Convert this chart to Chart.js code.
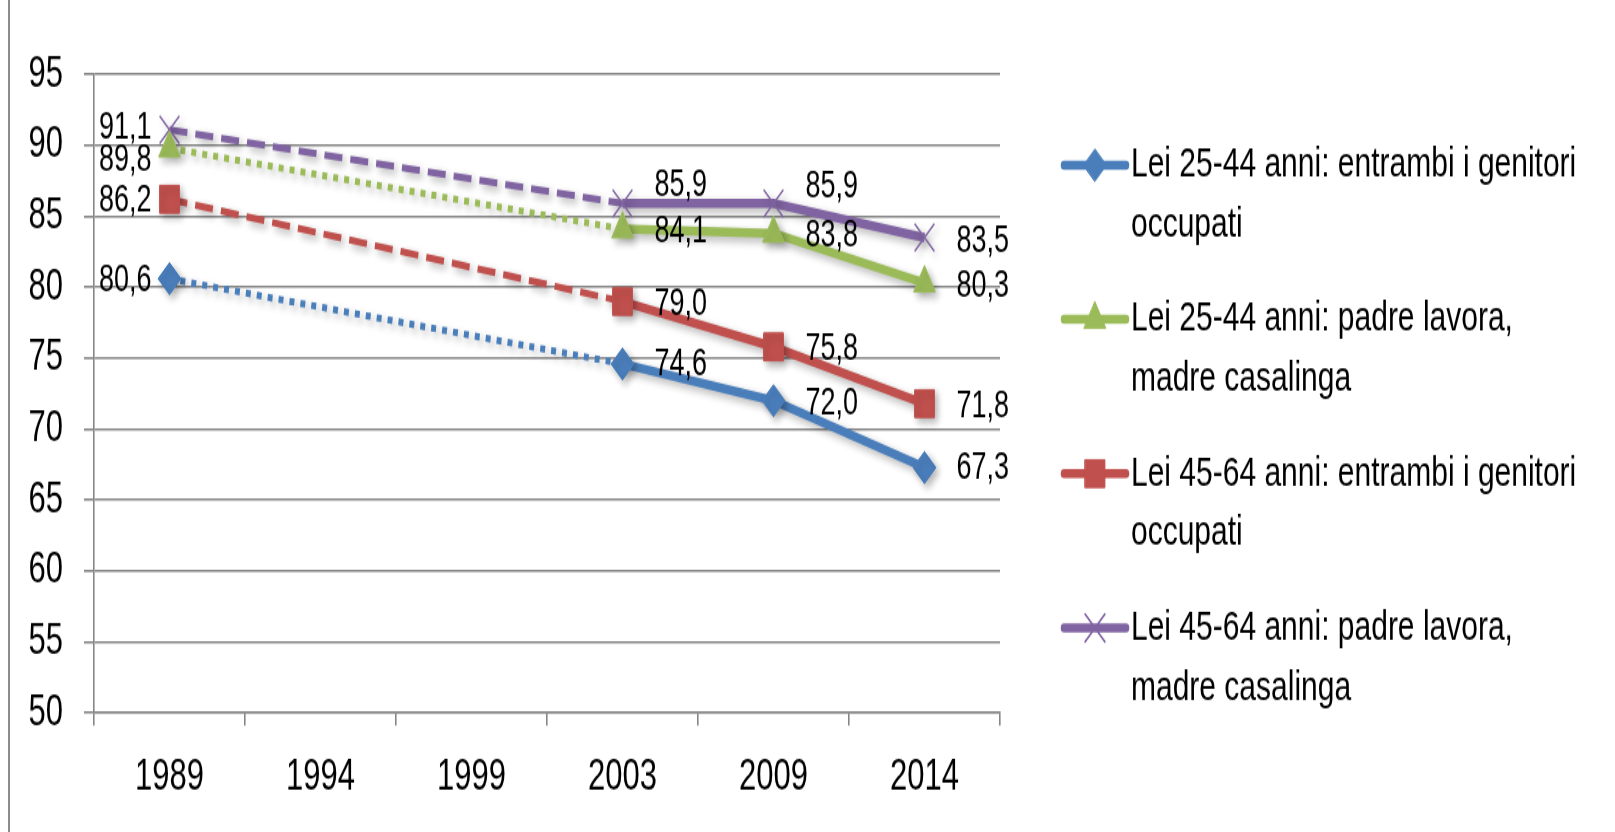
<!DOCTYPE html>
<html>
    <head>
        <meta charset="UTF-8" />
        <title>Lei 25-64 anni</title>
        <script src="https://cdn.jsdelivr.net/npm/chart.js@4.4.0/dist/chart.umd.min.js"></script>
        <style>
            body { margin: 0; background: #fff; }
            #frame { position: absolute; left: 8px; top: 0; height: 832px; border-left: 2px solid #8c8c8c; }
            /* the source picture is stretched vertically, so the canvas is too */
            #wrap { position: absolute; left: 0; top: 0; width: 1615px; height: 594.3px;
                    transform: scaleY(1.4); transform-origin: 0 0; }
        </style>
    </head>
    <body>
        <div id="frame"></div>
        <div id="wrap"><canvas id="lineChart"></canvas></div>
        <script>
            var years = ['1989', '1994', '1999', '2003', '2009', '2014'];

            var lei2544Entrambi = [80.6, null, null, 74.6, 72.0, 67.3];
            var lei2544Casalinga = [89.8, null, null, 84.1, 83.8, 80.3];
            var lei4564Entrambi = [86.2, null, null, 79.0, 75.8, 71.8];
            var lei4564Casalinga = [91.1, null, null, 85.9, 85.9, 83.5];

            var seriesNames = [
                'Lei 25-44 anni: entrambi i genitori\noccupati',
                'Lei 25-44 anni: padre lavora,\nmadre casalinga',
                'Lei 45-64 anni: entrambi i genitori\noccupati',
                'Lei 45-64 anni: padre lavora,\nmadre casalinga'
            ];

            var yMin = 50, yMax = 95, yStep = 5;

            var FONT = '"Liberation Sans", Arial, sans-serif';
            var GRID = '#868686';

            // dashed/dotted stretch over the missing years
            function gapped(ctx) { return ctx.p0.skip || ctx.p1.skip; }
            function gapDash(dash) {
                return function (ctx) { return gapped(ctx) ? dash : undefined; };
            }
            function gapWidth(ctx) { return gapped(ctx) ? 5 : undefined; }

            function series(label, data, color, style, radius, dash, labelDy) {
                return {
                    label: label,
                    data: data,
                    borderColor: color,
                    backgroundColor: color,
                    borderWidth: 6.5,
                    pointStyle: style,
                    pointRadius: radius,
                    pointBackgroundColor: style === 'crossRot' ? 'rgba(0,0,0,0)' : color,
                    pointBorderColor: color,
                    pointBorderWidth: style === 'crossRot' ? 1.5 : 1,
                    spanGaps: true,
                    tension: 0,
                    labelDy: labelDy,
                    segment: { borderDash: gapDash(dash), borderWidth: gapWidth }
                };
            }

            var shadowPlugin = {
                id: 'shadow',
                beforeDatasetsDraw: function (chart) {
                    var c = chart.ctx;
                    c.save();
                    c.shadowColor = 'rgba(0,0,0,0.3)';
                    c.shadowBlur = 6;
                    c.shadowOffsetX = 3;
                    c.shadowOffsetY = 3;
                },
                afterDatasetsDraw: function (chart) { chart.ctx.restore(); }
            };

            var valueLabels = {
                id: 'valueLabels',
                afterDatasetsDraw: function (chart) {
                    var c = chart.ctx;
                    c.save();
                    c.fillStyle = '#000';
                    c.font = '27px ' + FONT;
                    c.textBaseline = 'middle';
                    chart.data.datasets.forEach(function (ds, i) {
                        var meta = chart.getDatasetMeta(i);
                        ds.data.forEach(function (v, j) {
                            if (v === null) return;
                            var el = meta.data[j];
                            var dy = ds.labelDy[j];
                            var txt = v.toFixed(1).replace('.', ',');
                            if (j === 0) {
                                c.textAlign = 'right';
                                c.fillText(txt, el.x - 18, el.y + dy);
                            } else {
                                c.textAlign = 'left';
                                c.fillText(txt, el.x + 32, el.y + dy);
                            }
                        });
                    });
                    c.restore();
                }
            };

            var sideLegend = {
                id: 'sideLegend',
                afterDraw: function (chart) {
                    var c = chart.ctx;
                    chart.data.datasets.forEach(function (ds, i) {
                        var y = 117.9 + i * 110.2;
                        c.save();
                        c.strokeStyle = ds.borderColor;
                        c.lineWidth = 6.5;
                        c.lineCap = 'round';
                        c.beginPath();
                        c.moveTo(1064, y);
                        c.lineTo(1126, y);
                        c.stroke();
                        c.fillStyle = ds.pointBackgroundColor;
                        c.strokeStyle = ds.pointBorderColor;
                        c.lineWidth = ds.pointBorderWidth;
                        Chart.helpers.drawPoint(c, { pointStyle: ds.pointStyle, radius: ds.pointRadius,
                            rotation: 0, borderWidth: ds.pointBorderWidth }, 1095, y);
                        c.fillStyle = '#000';
                        c.font = '30px ' + FONT;
                        c.textAlign = 'left';
                        c.textBaseline = 'middle';
                        ds.label.split('\n').forEach(function (line, k) {
                            c.fillText(line, 1131, y + k * 42.9);
                        });
                        c.restore();
                    });
                }
            };

            var ctx = document.getElementById('lineChart');
            var lineChart = new Chart(ctx, {
                type: 'line',
                data: {
                    labels: years,
                    datasets: [
                        series(seriesNames[0], lei2544Entrambi, '#4A7EBB', 'rectRot', 11.5, [5, 6], [1, 0, 0, 1, 2, 1]),
                        series(seriesNames[1], lei2544Casalinga, '#9BBB59', 'triangle', 12.5, [5, 6], [9, 0, 0, 2, 2, 2]),
                        series(seriesNames[2], lei4564Entrambi, '#C0504D', 'rect', 14, [18, 8], [1, 0, 0, 2, 2, 2]),
                        series(seriesNames[3], lei4564Casalinga, '#8064A2', 'crossRot', 14, [18, 8], [-1, 0, 0, -13, -12, 3])
                    ]
                },
                options: {
                    responsive: true,
                    maintainAspectRatio: false,
                    animation: false,
                    layout: { padding: { left: 0, right: 615, top: 53.1, bottom: 0 } },
                    plugins: {
                        legend: { display: false },
                        tooltip: { enabled: false }
                    },
                    scales: {
                        x: {
                            offset: true,
                            grid: { offset: true, drawOnChartArea: false, color: GRID, lineWidth: 1.6, tickLength: 9 },
                            border: { color: GRID, width: 1.6 },
                            ticks: { color: '#000', font: { family: FONT, size: 31 }, padding: 19, maxRotation: 0 },
                            afterFit: function (s) { s.height = 85; }
                        },
                        y: {
                            min: yMin,
                            max: yMax,
                            ticks: { stepSize: yStep, color: '#000', font: { family: FONT, size: 31 }, padding: 21 },
                            grid: { color: GRID, lineWidth: 1.6, tickLength: 10 },
                            border: { color: GRID, width: 1.6 },
                            afterFit: function (s) { s.width = 94; }
                        }
                    }
                },
                plugins: [shadowPlugin, valueLabels, sideLegend]
            });
        </script>
    </body>
</html>
